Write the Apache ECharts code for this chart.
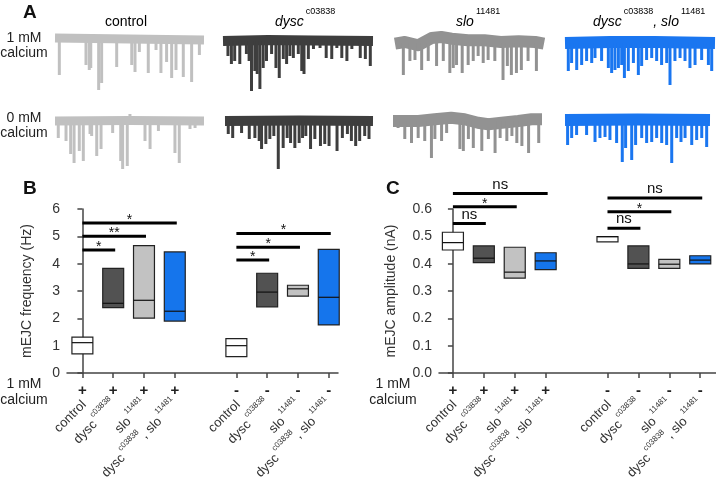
<!DOCTYPE html>
<html><head><meta charset="utf-8">
<script src="https://cdn.jsdelivr.net/npm/echarts@6/dist/echarts.min.js"></script>
<style>html,body{margin:0;padding:0;background:#fff}#c{width:716px;height:491px}</style>
</head><body><div id="c"></div>
<script>
// ================= DATA =================
// Panel A traces: spikes [position % along trace, depth (px-like units)], baseline wobble [position %, offset]
const spikesCtl1 = [[2.9,36],[20.8,26],[23,31],[24,29],[29.3,51],[31.3,44],[41.4,28],[51.5,26],[53.7,33],[56.6,13],[62.6,34],[67.8,11],[71.1,34],[74.9,23],[78.3,39],[81.2,31],[86.1,38],[91.7,43],[96.9,16]];
const spikesDysc1 = [[3.3,15],[5.6,23],[7.8,20],[11.2,23],[15.6,13],[17.4,20],[19,50],[21.2,30],[22.8,33],[24.6,48],[26.8,27],[29,20],[32.4,13],[35.3,27],[37.5,37],[40.2,18],[42.4,23],[44.6,15],[46.9,17],[50.2,13],[52.5,30],[54,33],[56.9,18],[60.3,8],[64.7,7],[68.8,17],[72.5,18],[75.9,7],[79.2,17],[82.6,20],[85.9,8],[91.5,17],[94.9,18],[98.2,25]];
const spikesSlo1 = [[5.6,32],[10,18],[13.4,17],[17.9,27],[22.3,18],[27.9,23],[32.4,18],[36.8,30],[39.1,25],[41.3,22],[45.1,30],[49.1,22],[52.5,18],[55.8,13],[59.2,20],[62.5,17],[67,18],[72.5,37],[75.4,23],[78.1,32],[81.5,30],[84.8,27],[89.3,18],[94.9,28]];
const spikesDbl1 = [[2.2,28],[4.4,20],[7.8,27],[11.1,22],[14.4,18],[17.8,20],[20,15],[24.4,18],[28.9,25],[31.1,30],[33.3,27],[35.6,25],[37.8,22],[39.6,35],[42.2,28],[45.6,20],[48.9,32],[51.1,23],[54.4,17],[57.8,15],[61.1,18],[64.4,22],[67.8,20],[70,42],[73.3,18],[76.7,15],[80,18],[83.3,25],[86.7,22],[91.1,17],[95.6,22],[97.8,28]];
const spikesCtl0 = [[2.2,17],[7.4,20],[10.5,33],[12.8,42],[16.3,30],[19,40],[23.5,13],[24.6,15],[28,35],[30.9,28],[38.7,12],[44.1,40],[45.4,48],[48.5,45],[50.3,-7],[60.4,20],[63.8,28],[69.4,10],[80.5,32],[83.4,42],[90.6,8],[94,7]];
const spikesDysc0 = [[2.2,13],[5.2,17],[11.2,12],[16.4,18],[20.2,17],[23.1,20],[24.7,28],[27.6,23],[30.3,18],[33,15],[36,48],[39.3,27],[42,17],[44.3,22],[47.2,27],[50.1,22],[52.4,17],[54.6,15],[57.8,28],[60.7,18],[64.5,25],[67.4,23],[70.3,25],[75.7,30],[79.3,17],[82.7,13],[85.4,20],[88.3,25],[91,20],[94.4,15],[97.3,18]];
const spikesSlo0 = [[3.4,7],[7.9,18],[12.4,22],[16.9,17],[21.3,20],[25.8,37],[28.1,18],[32.6,20],[36,12],[44.9,28],[47.2,30],[50.6,18],[53.9,27],[59.6,30],[64,18],[68.5,32],[71.9,17],[76.4,20],[79.8,15],[83.1,22],[86.5,25],[91,32],[97.8,22]];
const spikesDbl0 = [[1.8,25],[4.6,18],[8,15],[14.9,15],[20.7,22],[24.1,18],[27.6,17],[31,20],[35.6,23],[39.5,42],[41.8,28],[46,40],[48.7,25],[52.9,18],[56.3,23],[59.8,22],[63.2,18],[66.7,23],[70.1,25],[73.6,43],[77,18],[80,22],[82.8,18],[87.4,25],[90.8,20],[94.3,18],[97.7,27]];

const baseCtl1 = [[0,1],[25,0.5],[50,0],[75,-0.5],[100,-1]];
const baseDysc1 = [[0,0],[30,1],[60,0.5],[100,0]];
const baseSlo1 = [[0,-0.7],[6.7,1],[15.6,-2.3],[24.6,5],[31,6],[38,4.3],[49,2.7],[60,2.7],[71,1],[83,1.7],[94,1],[100,-0.7]];
const baseDbl1 = [[0,0],[30,1],[60,1],[100,0]];
const baseCtl0 = [[0,0],[50,0.5],[100,0]];
const baseDysc0 = [[0,0],[50,0.5],[100,0]];
const baseSlo0 = [[0,0],[17,0],[28,1.7],[39,3.3],[48,1.7],[57,-1.7],[64,-3.3],[73,-1.7],[84,0],[93,1.7],[100,1.7]];
const baseDbl0 = [[0,0],[50,0.5],[100,0]];

// Genotype labels: [name, allele superscript] parts
const genotypeParts = [[['control','']], [['dysc','c03838']], [['slo','11481']], [['dysc','c03838'], [', slo','11481']]];
const calciumRowLabels = ['1 mM\ncalcium', '0 mM\ncalcium'];
const calciumAxisLabel = '1 mM\ncalcium';

// Panels B & C categories
const categoryPos = [0, 1, 2, 3, 5, 6, 7, 8];
const calciumSigns = ['+', '+', '+', '+', '-', '-', '-', '-'];

// B: mEJC frequency (Hz): low, median, high
const freqLow    = [0.70, 2.39, 2.01, 1.90, 0.60, 2.42, 2.81, 1.76];
const freqMedian = [1.11, 2.55, 2.66, 2.26, 1.00, 2.96, 3.08, 2.77];
const freqHigh   = [1.31, 3.83, 4.66, 4.43, 1.26, 3.65, 3.21, 4.52];
const freqSigFrom = [0, 0, 0, 5, 5, 5];
const freqSigTo   = [1, 2, 3, 6, 7, 8];
const freqSigY    = [4.5, 5.0, 5.49, 4.13, 4.6, 5.1];
const freqSigText = ['*', '**', '*', '*', '*', '*'];

// C: mEJC amplitude (nA): low, median, high
const ampLow    = [0.450, 0.404, 0.347, 0.378, 0.480, 0.383, 0.383, 0.399];
const ampMedian = [0.477, 0.420, 0.369, 0.410, 0.499, 0.399, 0.398, 0.413];
const ampHigh   = [0.515, 0.465, 0.460, 0.440, 0.499, 0.465, 0.416, 0.429];
const ampSigFrom = [0, 0, 0, 5, 5, 5];
const ampSigTo   = [1, 2, 3, 6, 7, 8];
const ampSigY    = [0.547, 0.608, 0.657, 0.530, 0.590, 0.640];
const ampSigText = ['ns', '*', 'ns', 'ns', '*', 'ns'];

// ================= STYLE / LAYOUT =================
const FONT = '"Liberation Sans", Arial, Helvetica, sans-serif';
const traceColors = ['#c0c0c0', '#3e3e3e', '#929292', '#1a76f0'];
const boxColors = ['#ffffff', '#525252', '#c2c2c2', '#1575ec'];
const bandWidths = [9, 10, 12, 12];

const traces = [
  {spikes: spikesCtl1, base: baseCtl1, g: 0, left: 55, width: 149, cy: 39},
  {spikes: spikesDysc1, base: baseDysc1, g: 1, left: 223, width: 150, cy: 41},
  {spikes: spikesSlo1, base: baseSlo1, g: 2, left: 395, width: 149, cy: 43},
  {spikes: spikesDbl1, base: baseDbl1, g: 3, left: 565, width: 150, cy: 43},
  {spikes: spikesCtl0, base: baseCtl0, g: 0, left: 55, width: 149, cy: 121},
  {spikes: spikesDysc0, base: baseDysc0, g: 1, left: 225, width: 148, cy: 121},
  {spikes: spikesSlo0, base: baseSlo0, g: 2, left: 393, width: 149, cy: 121},
  {spikes: spikesDbl0, base: baseDbl0, g: 3, left: 565, width: 145, cy: 120}
];

const grid = [], xAxis = [], yAxis = [], series = [];
traces.forEach((t, i) => {
  grid.push({left: t.left, top: t.cy - 12, width: t.width, height: 72});
  xAxis.push({type: 'value', gridIndex: i, min: 0, max: 100, show: false});
  yAxis.push({type: 'value', gridIndex: i, min: -60, max: 12, show: false});
  series.push({
    type: 'line', xAxisIndex: i, yAxisIndex: i, data: t.base, symbol: 'none', silent: true,
    lineStyle: {color: traceColors[t.g], width: bandWidths[t.g], join: 'round'}, z: 2
  });
  series.push({
    type: 'bar', xAxisIndex: i, yAxisIndex: i, barWidth: 3, silent: true,
    data: t.spikes.map(s => [s[0], -s[1]]),
    itemStyle: {color: traceColors[t.g]}, z: 3
  });
});

// ---- Panels B and C ----
function nameRich(idx) {
  return genotypeParts[idx % 4].map(p => '{n|' + p[0] + '}' + (p[1] ? '{s|' + p[1] + '}' : '')).join('');
}
const axisRich = {
  n: {fontSize: 13, fontFamily: FONT, color: '#333', lineHeight: 18, verticalAlign: 'bottom'},
  s: {fontSize: 8, fontFamily: FONT, color: '#333', lineHeight: 9, verticalAlign: 'top', padding: [0, 0, 0, 2]}
};

function addPlot(gi, g, xr, yCfg) {
  grid.push(g);
  const common = {type: 'value', gridIndex: gi, min: xr[0], max: xr[1], splitLine: {show: false}};
  xAxis.push(Object.assign({}, common, {
    position: 'bottom',
    axisLine: {show: true, onZero: false, lineStyle: {color: '#444', width: 1.5}},
    axisTick: {show: true, customValues: categoryPos, length: 5, lineStyle: {color: '#444', width: 1.5}},
    axisLabel: {show: true, customValues: categoryPos, margin: 10, fontSize: 15, fontWeight: 'bold', color: '#222', fontFamily: FONT,
      formatter: v => calciumSigns[categoryPos.indexOf(v)]}
  }));
  xAxis.push(Object.assign({}, common, {
    position: 'bottom',
    axisLine: {show: false}, axisTick: {show: false},
    axisLabel: {show: true, customValues: categoryPos, rotate: 45, margin: 28, rich: axisRich,
      formatter: v => nameRich(categoryPos.indexOf(v))}
  }));
  yAxis.push(Object.assign({type: 'value', gridIndex: gi, splitLine: {show: false},
    axisLine: {show: true, lineStyle: {color: '#444', width: 1.5}},
    axisTick: {show: true, length: 5, lineStyle: {color: '#444', width: 1.5}},
    nameLocation: 'middle', nameTextStyle: {fontSize: 14, color: '#333', fontFamily: FONT},
    axisLabel: {fontSize: 14, color: '#333', margin: 7, fontFamily: FONT}
  }, yCfg));
}

addPlot(8, {left: 67, top: 209, width: 271, height: 164}, [-0.5, 8.3],
  {min: 0, max: 6, interval: 1, name: 'mEJC frequency (Hz)', nameGap: 33});
addPlot(9, {left: 439, top: 209, width: 280, height: 164}, [-0.45, 8.51],
  {min: 0, max: 0.6, interval: 0.1, name: 'mEJC amplitude (nA)', nameGap: 41,
   axisLabel: {fontSize: 14, color: '#333', margin: 7, fontFamily: FONT, formatter: v => v.toFixed(1)}});

function boxRender(params, api) {
  const x = api.value(0), lo = api.value(1), med = api.value(2), hi = api.value(3);
  const w = api.size([0.68, 0])[0];
  const pLo = api.coord([x, lo]), pHi = api.coord([x, hi]), pMed = api.coord([x, med]);
  const cx = pLo[0];
  return {type: 'group', children: [
    {type: 'rect', shape: {x: cx - w / 2, y: pHi[1], width: w, height: pLo[1] - pHi[1]},
      style: {fill: boxColors[params.dataIndex % 4], stroke: '#222', lineWidth: 1.2}},
    {type: 'line', shape: {x1: cx - w / 2, y1: pMed[1], x2: cx + w / 2, y2: pMed[1]},
      style: {stroke: '#111', lineWidth: 1.2}}
  ]};
}
function sigRender(texts) {
  return function (params, api) {
    const a = api.coord([api.value(0), api.value(2)]);
    const b = api.coord([api.value(1), api.value(2)]);
    const t = texts[params.dataIndex];
    const star = t.indexOf('*') >= 0;
    return {type: 'group', children: [
      {type: 'line', shape: {x1: a[0], y1: a[1], x2: b[0] + 2, y2: b[1]}, style: {stroke: '#000', lineWidth: 3}},
      {type: 'text', x: (a[0] + b[0]) / 2 + 1, y: a[1] - (star ? 3 : 9),
        style: {text: t, font: (star ? '14px ' : '15px ') + FONT, fill: '#111', align: 'center', verticalAlign: 'middle'}}
    ]};
  };
}

series.push({type: 'custom', xAxisIndex: 8, yAxisIndex: 8, renderItem: boxRender, clip: false, silent: true,
  data: categoryPos.map((c, i) => [c, freqLow[i], freqMedian[i], freqHigh[i]])});
series.push({type: 'custom', xAxisIndex: 8, yAxisIndex: 8, renderItem: sigRender(freqSigText), clip: false, silent: true,
  data: freqSigFrom.map((f, i) => [f, freqSigTo[i], freqSigY[i]])});
series.push({type: 'custom', xAxisIndex: 10, yAxisIndex: 9, renderItem: boxRender, clip: false, silent: true,
  data: categoryPos.map((c, i) => [c, ampLow[i], ampMedian[i], ampHigh[i]])});
series.push({type: 'custom', xAxisIndex: 10, yAxisIndex: 9, renderItem: sigRender(ampSigText), clip: false, silent: true,
  data: ampSigFrom.map((f, i) => [f, ampSigTo[i], ampSigY[i]])});

// ---- Text elements ----
const titleRich = {
  i: {fontSize: 14, fontStyle: 'italic', fontFamily: FONT, color: '#222', lineHeight: 22, verticalAlign: 'bottom'},
  n: {fontSize: 14, fontFamily: FONT, color: '#222', lineHeight: 22, verticalAlign: 'bottom'},
  s: {fontSize: 9, fontFamily: FONT, color: '#222', lineHeight: 10, verticalAlign: 'top', padding: [0, 0, 0, 2]}
};
function titleText(idx) {
  return genotypeParts[idx].map(p => (p[0] === 'control' ? '{n|' : '{i|') + p[0] + '}' + (p[1] ? '{s|' + p[1] + '}' : '')).join('');
}
const titleX = [105, 275, 456, 593];
const graphic = [];
genotypeParts.forEach((p, i) => {
  graphic.push({type: 'text', x: titleX[i], y: 18, style: {text: titleText(i), rich: titleRich, align: 'left', verticalAlign: 'middle'}});
});
calciumRowLabels.forEach((t, i) => {
  graphic.push({type: 'text', x: 24, y: [46, 126][i], style: {text: t, font: '14px ' + FONT, fill: '#222', align: 'center', verticalAlign: 'middle', lineHeight: 15}});
});
[[24, 392], [393, 392]].forEach(pos => {
  graphic.push({type: 'text', x: pos[0], y: pos[1], style: {text: calciumAxisLabel, font: '14px ' + FONT, fill: '#222', align: 'center', verticalAlign: 'middle', lineHeight: 16}});
});
[['A', 23, 3], ['B', 23, 179], ['C', 386, 179]].forEach(l => {
  graphic.push({type: 'text', x: l[1], y: l[2], style: {text: l[0], font: 'bold 19px ' + FONT, fill: '#111', align: 'left', verticalAlign: 'top'}});
});

const chart = echarts.init(document.getElementById('c'), null, {renderer: 'canvas'});
chart.setOption({animation: false, backgroundColor: '#fff', grid, xAxis, yAxis, series, graphic});
</script></body></html>
